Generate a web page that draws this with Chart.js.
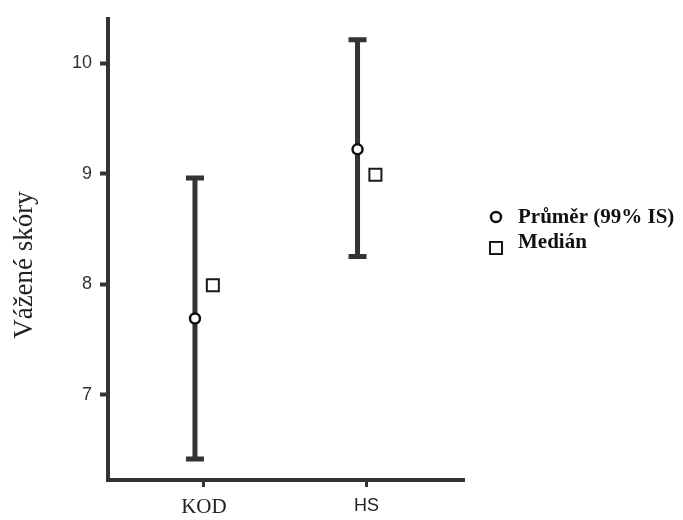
<!DOCTYPE html>
<html>
<head>
<meta charset="utf-8">
<script src="https://cdn.jsdelivr.net/npm/chart.js@4.4.1/dist/chart.umd.min.js"></script>
<style>
  html, body { margin: 0; padding: 0; background: #fff; }
  #wrap { width: 683px; height: 520px; }
</style>
</head>
<body>
<div id="wrap"><canvas id="skoryChart"></canvas></div>
<script>
const categories = ['KOD', 'HS'];
const meanValues = [7.69, 9.22];
const ciLow = [6.42, 8.25];
const ciHigh = [8.96, 10.21];
const medianValues = [7.99, 8.99];
const yTicks = [7, 8, 9, 10];
const legendLabels = ['Průměr (99% IS)', 'Medián'];
const yTitle = 'Vážené skóry';

const ink = '#333333';
const shift = 0.055; // mean sits left of the category, median right

// 99% interval whiskers, drawn under the points
const errorBars = {
    id: 'errorBars',
    beforeDatasetsDraw(chart) {
        const { ctx, scales: { x, y } } = chart;
        ctx.save();
        ctx.strokeStyle = ink;
        ctx.lineWidth = 5;
        categories.forEach((c, i) => {
            const px = x.getPixelForValue(i + 1 - shift);
            const top = y.getPixelForValue(ciHigh[i]);
            const bottom = y.getPixelForValue(ciLow[i]);
            ctx.beginPath();
            ctx.moveTo(px, top);
            ctx.lineTo(px, bottom);
            ctx.moveTo(px - 9, top);
            ctx.lineTo(px + 9, top);
            ctx.moveTo(px - 9, bottom);
            ctx.lineTo(px + 9, bottom);
            ctx.stroke();
        });
        ctx.restore();
    }
};

// legend on the right + y axis title (sits a bit below the axis middle)
const sideTexts = {
    id: 'sideTexts',
    afterDraw(chart) {
        const ctx = chart.ctx;
        const rows = [{ my: 217, ty: 223 }, { my: 248, ty: 248 }];
        ctx.save();
        chart.data.datasets.forEach((ds, i) => {
            ctx.fillStyle = ds.pointBackgroundColor;
            ctx.strokeStyle = ds.pointBorderColor;
            ctx.lineWidth = ds.pointBorderWidth;
            Chart.helpers.drawPoint(ctx, {
                pointStyle: ds.pointStyle,
                radius: ds.pointRadius,
                rotation: 0,
                borderWidth: ds.pointBorderWidth
            }, 496, rows[i].my);
            ctx.fillStyle = '#111';
            ctx.font = 'bold 21px "Liberation Serif"';
            ctx.textBaseline = 'alphabetic';
            ctx.fillText(ds.label, 518, rows[i].ty);
        });

        ctx.translate(25, 265);
        ctx.rotate(-Math.PI / 2);
        ctx.fillStyle = '#222';
        ctx.font = '27px "Liberation Serif"';
        ctx.textAlign = 'center';
        ctx.textBaseline = 'middle';
        ctx.fillText(yTitle, 0, 0);
        ctx.restore();
    }
};

new Chart(document.getElementById('skoryChart'), {
    type: 'scatter',
    data: {
        datasets: [{
            label: legendLabels[0],
            data: meanValues.map((v, i) => ({ x: i + 1 - shift, y: v })),
            pointStyle: 'circle',
            pointRadius: 5,
            pointBorderWidth: 2.5,
            pointBackgroundColor: '#ffffff',
            pointBorderColor: '#111111'
        }, {
            label: legendLabels[1],
            data: medianValues.map((v, i) => ({ x: i + 1 + shift, y: v })),
            pointStyle: 'rect',
            pointRadius: 8.5,
            pointBorderWidth: 2,
            pointBackgroundColor: '#ffffff',
            pointBorderColor: '#1a1a1a'
        }]
    },
    options: {
        responsive: true,
        maintainAspectRatio: false,
        animation: false,
        layout: {
            padding: { top: 14, right: 219, left: 0, bottom: 0 }
        },
        plugins: {
            legend: { display: false },
            tooltip: { enabled: false }
        },
        scales: {
            x: {
                type: 'linear',
                min: 0.41,
                max: 2.6,
                afterBuildTicks(scale) {
                    scale.ticks = categories.map((c, i) => ({ value: i + 1 }));
                },
                afterFit(scale) {
                    scale.height = 40;
                },
                ticks: {
                    callback: (value, index) => categories[index],
                    color: '#222',
                    padding: 8,
                    font: (ctx) => ctx.index === 0
                        ? { family: '"Liberation Serif"', size: 21 }
                        : { family: '"Liberation Sans"', size: 18 }
                },
                grid: {
                    drawOnChartArea: false,
                    tickLength: 7,
                    tickWidth: 3,
                    tickColor: ink
                },
                border: { color: ink, width: 4 }
            },
            y: {
                min: 6.23,
                max: 10.4,
                afterBuildTicks(scale) {
                    scale.ticks = yTicks.map(v => ({ value: v }));
                },
                afterFit(scale) {
                    scale.width = 108;
                },
                ticks: {
                    color: '#333',
                    padding: 8,
                    font: { family: '"Liberation Sans"', size: 18 }
                },
                grid: {
                    drawOnChartArea: false,
                    tickLength: 8,
                    tickWidth: 4,
                    tickColor: ink
                },
                border: { color: ink, width: 4 }
            }
        }
    },
    plugins: [errorBars, sideTexts]
});
</script>
</body>
</html>
